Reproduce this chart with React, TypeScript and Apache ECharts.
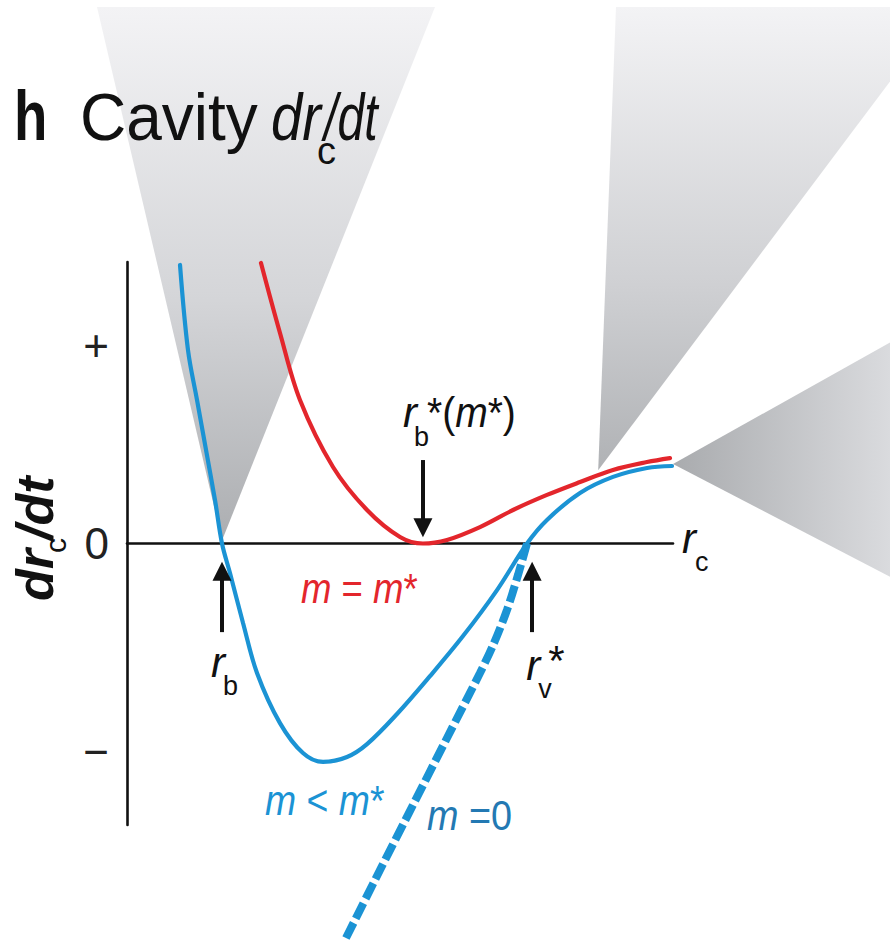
import React, { useEffect, useRef } from "react";
import * as echarts from "echarts";

// Schematic axis extents
const X_MIN = 0;
const X_MAX = 10;
const Y_MIN = -1.42;
const Y_MAX = 1.42;

// Qualitative ticks on the dr_c/dt axis
const yTickValues = [1, 0, -1.05];
const yTickLabels = ["+", "0", "\u2212"];

// m = m* curve (touches zero at r_b*)
const redX = [2.454, 2.802, 3.168, 3.773, 4.396, 5.0, 5.421, 5.861, 6.465, 7.07, 7.692, 8.297, 8.901, 9.524, 9.945];
const redY = [1.415, 1.062, 0.724, 0.386, 0.169, 0.033, 0.0, 0.018, 0.083, 0.169, 0.245, 0.31, 0.371, 0.411, 0.431];

// m < m* curve (zeros at r_b and r_v*)
const blueX = [0.971, 1.117, 1.282, 1.447, 1.612, 1.74, 1.886, 2.125, 2.381, 2.802, 3.223, 3.59, 4.029, 4.396, 4.945, 5.549, 6.154, 6.777, 7.326, 7.692, 8.297, 8.901, 9.524, 9.982];
const blueY = [1.405, 0.976, 0.724, 0.472, 0.219, 0.0, -0.149, -0.401, -0.653, -0.906, -1.057, -1.102, -1.077, -1.012, -0.86, -0.669, -0.467, -0.235, 0.0, 0.119, 0.255, 0.336, 0.381, 0.391];

// m = 0 curve (dashed, leaves r_v* downward)
const zeroX = [7.326, 7.161, 6.96, 6.722, 6.465, 5.861, 5.238, 4.634, 3.993];
const zeroY = [0.0, -0.159, -0.335, -0.502, -0.653, -0.981, -1.319, -1.647, -2.0];

// Marked radii
const rB = 1.74;
const rBStar = 5.42;
const rVStar = 7.42;

// Arrows: x, tail y, head y
const arrowX = [rB, rBStar, rVStar];
const arrowFrom = [-0.447, 0.421, -0.447];
const arrowTo = [-0.14, 0.08, -0.14];

const RED = "#e3262c";
const BLUE = "#1b93d4";
const BLUE_DARK = "#2379b3";
const INK = "#111111";
const FONT = "'Liberation Sans', 'Helvetica Neue', Arial, sans-serif";

type TxtOpts = { italic?: boolean; bold?: boolean; color?: string; sx?: number };

function txt(text: string, x: number, base: number, size: number, o: TxtOpts = {}) {
  return {
    type: "text",
    x,
    y: base - 0.35 * size,
    scaleX: o.sx ?? 1,
    z: 50,
    silent: true,
    style: {
      text,
      fontSize: size,
      fontFamily: FONT,
      fontStyle: o.italic ? "italic" : "normal",
      fontWeight: o.bold ? "bold" : "normal",
      fill: o.color ?? INK,
      align: "left",
      verticalAlign: "middle",
    },
  };
}

function richTxt(text: string, x: number, base: number, size: number, color: string, sx = 1) {
  const tok = (italic: boolean) => ({
    fontStyle: italic ? "italic" : "normal",
    fontSize: size,
    fontFamily: FONT,
    fill: color,
  });
  return {
    type: "text",
    x,
    y: base - 0.35 * size,
    scaleX: sx,
    z: 50,
    silent: true,
    style: {
      text,
      fontSize: size,
      fontFamily: FONT,
      fill: color,
      align: "left",
      verticalAlign: "middle",
      rich: { i: tok(true), n: tok(false) },
    },
  };
}

const zip = (xs: number[], ys: number[]) => xs.map((x, i) => [x, ys[i]]);

export default function App() {
  const ref = useRef<HTMLDivElement>(null);

  useEffect(() => {
    if (!ref.current) return;
    const chart = echarts.init(ref.current, null, { renderer: "svg" });

    const axisLine = { show: true, onZero: true, lineStyle: { color: INK, width: 2.6 } };

    chart.setOption({
      animation: false,
      backgroundColor: "#ffffff",
      grid: { left: 127, top: 262, width: 546, height: 563 },
      xAxis: {
        type: "value",
        min: X_MIN,
        max: X_MAX,
        axisLine,
        axisTick: { show: false },
        axisLabel: { show: false },
        splitLine: { show: false },
      },
      yAxis: {
        type: "value",
        min: Y_MIN,
        max: Y_MAX,
        axisLine,
        axisTick: { show: false },
        splitLine: { show: false },
        axisLabel: {
          customValues: yTickValues,
          margin: 18,
          fontSize: 44,
          fontFamily: FONT,
          color: "#222",
          formatter: (v: number) => {
            let best = 0;
            yTickValues.forEach((t, i) => {
              if (Math.abs(t - v) < Math.abs(yTickValues[best] - v)) best = i;
            });
            return yTickLabels[best];
          },
        },
      },
      series: [
        {
          name: "m = 0",
          type: "line",
          data: zip(zeroX, zeroY),
          smooth: 0.3,
          showSymbol: false,
          clip: false,
          silent: true,
          z: 2,
          lineStyle: { color: BLUE, width: 8, type: [17, 5], cap: "butt" },
        },
        {
          name: "m < m*",
          type: "line",
          data: zip(blueX, blueY),
          smooth: 0.35,
          showSymbol: false,
          silent: true,
          z: 3,
          lineStyle: { color: BLUE, width: 4.2, cap: "round" },
        },
        {
          name: "m = m*",
          type: "line",
          data: zip(redX, redY),
          smooth: 0.35,
          showSymbol: false,
          silent: true,
          z: 4,
          lineStyle: { color: RED, width: 4.2, cap: "round" },
          markLine: {
            silent: true,
            symbol: ["none", "triangle"],
            symbolSize: 19,
            label: { show: false },
            emphasis: { disabled: true },
            lineStyle: { color: INK, width: 4, type: "solid" },
            data: arrowX.map((x, i) => [
              { coord: [x, arrowFrom[i]] },
              { coord: [x, arrowTo[i]] },
            ]),
          },
        },
      ],
    });

    const px = (x: number, y: number) =>
      chart.convertToPixel({ gridIndex: 0 }, [x, y]) as number[];

    const g: any[] = [];

    // Shaded cones behind the curves
    const a1 = px(rB, 0);
    const a2 = px(8.63, 0.37);
    const a3 = px(blueX[blueX.length - 1], blueY[blueY.length - 1]);
    g.push({
      type: "polygon",
      z: -1,
      silent: true,
      shape: { points: [[97, 7], [435, 7], [a1[0], a1[1] - 3]] },
      style: {
        fill: new echarts.graphic.LinearGradient(0, 0, 0, 1, [
          { offset: 0, color: "#f3f3f5" },
          { offset: 0.55, color: "#d4d5d8" },
          { offset: 1, color: "#acaeb1" },
        ]),
      },
    });
    g.push({
      type: "polygon",
      z: -1,
      silent: true,
      shape: { points: [[616, 7], [946, 7], [a2[0], a2[1]]] },
      style: {
        fill: new echarts.graphic.LinearGradient(0, 0, 0, 1, [
          { offset: 0, color: "#f3f3f5" },
          { offset: 0.6, color: "#cfd0d3" },
          { offset: 1, color: "#b0b2b5" },
        ]),
      },
    });
    g.push({
      type: "polygon",
      z: -1,
      silent: true,
      shape: { points: [[a3[0] + 1, a3[1] - 2], [900, 337], [900, 582]] },
      style: {
        fill: new echarts.graphic.LinearGradient(0, 0, 1, 0, [
          { offset: 0, color: "#a9abae" },
          { offset: 1, color: "#dcdde0" },
        ]),
      },
    });

    // Panel title
    g.push(txt("h", 14, 140, 70, { bold: true, sx: 0.78 }));
    g.push(txt("Cavity", 80, 140, 66, { sx: 0.97 }));
    g.push(txt("dr", 271, 140, 66, { italic: true, sx: 0.85 }));
    g.push(txt("c", 317, 164, 38));
    g.push(txt("/dt", 324, 140, 66, { italic: true, sx: 0.73 }));

    // Vertical axis title, reading upward
    g.push({
      type: "group",
      x: 53,
      y: 601,
      rotation: Math.PI / 2,
      children: [
        txt("dr", 0, 0, 52, { italic: true, bold: true }),
        txt("c", 48, 13, 30),
        txt("/dt", 61, 0, 52, { italic: true, bold: true }),
      ],
    });

    // r_c at the end of the horizontal axis
    const pc = px(X_MAX, 0);
    g.push(txt("r", pc[0] + 9, pc[1] + 10, 42, { italic: true }));
    g.push(txt("c", pc[0] + 22, pc[1] + 28, 27));

    // r_b under its arrow
    const p1 = px(rB, arrowFrom[0]);
    g.push(txt("r", p1[0] - 11, p1[1] + 45, 42, { italic: true }));
    g.push(txt("b", p1[0] + 1, p1[1] + 63, 27));

    // r_b*(m*) above its arrow
    const p2 = px(rBStar, arrowFrom[1]);
    g.push(txt("r", p2[0] - 20, p2[1] - 33, 42, { italic: true }));
    g.push(txt("b", p2[0] - 9, p2[1] - 14, 27));
    g.push(richTxt("{n|*(}{i|m}{n|*)}", p2[0] + 4, p2[1] - 33, 42, INK, 0.93));

    // r_v* under its arrow
    const p3 = px(rVStar, arrowFrom[2]);
    g.push(txt("r", p3[0] - 6, p3[1] + 48, 42, { italic: true }));
    g.push(txt("v", p3[0] + 6, p3[1] + 66, 27));
    g.push(txt("*", p3[0] + 16, p3[1] + 43, 42));

    // Curve labels
    const pr = px(rBStar, 0);
    g.push(richTxt("{i|m}{n| = }{i|m}{n|*}", pr[0] - 122, pr[1] + 59, 42, RED, 0.87));
    const pm = px(blueX[11], blueY[11]);
    g.push(richTxt("{i|m}{n| < }{i|m}{n|*}", pm[0] - 58, pm[1] + 53, 42, BLUE, 0.89));
    const pz = px(zeroX[6], zeroY[6]);
    g.push(richTxt("{i|m}{n| =0}", pz[0] + 14, pz[1] + 25, 42, BLUE_DARK, 0.9));

    chart.setOption({ graphic: g });

    return () => chart.dispose();
  }, []);

  return (
    <div
      ref={ref}
      style={{ position: "absolute", left: 0, top: 0, width: 890, height: 942 }}
    />
  );
}
